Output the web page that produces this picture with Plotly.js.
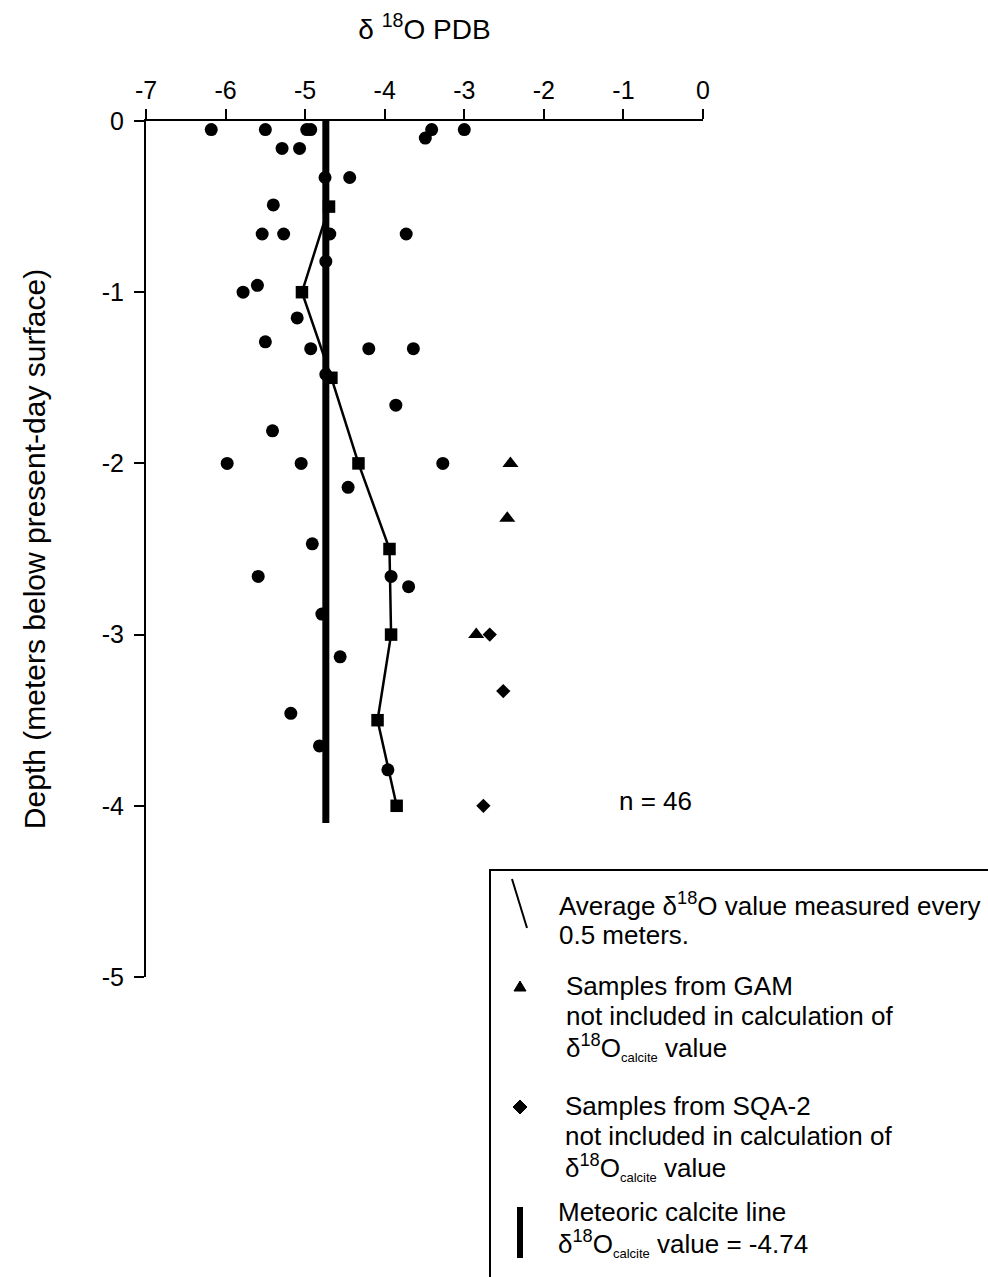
<!DOCTYPE html>
<html>
<head>
<meta charset="utf-8">
<script src="https://cdn.plot.ly/plotly-3.0.1.min.js"></script>
<style>html,body{margin:0;padding:0;background:#fff;}</style>
</head>
<body>
<div id="chart" style="width:988px;height:1277px;"></div>
<script>
// ---- data (δ18O PDB vs depth in m) ----
const sampleX = [-6.18,-5.50,-4.98,-4.93,-3.41,-3.49,-3.00,-5.29,-5.07,-4.75,-4.44,-5.40,-5.54,-5.27,-4.69,-3.73,-4.74,-5.60,-5.78,-5.10,-5.50,-4.93,-4.20,-3.64,
                 -4.74,-3.86,-5.41,-5.98,-5.05,-3.27,-4.46,-4.91,-5.59,-3.92,-3.70,
                 -4.79,-4.56,-5.18,-4.82,-3.96];
const sampleY = [-0.05,-0.05,-0.05,-0.05,-0.05,-0.10,-0.05,-0.16,-0.16,-0.33,-0.33,-0.49,-0.66,-0.66,-0.66,-0.66,-0.82,-0.96,-1.00,-1.15,-1.29,-1.33,-1.33,-1.33,
                 -1.48,-1.66,-1.81,-2.00,-2.00,-2.00,-2.14,-2.47,-2.66,-2.66,-2.72,
                 -2.88,-3.13,-3.46,-3.65,-3.79];
const avgDepth = [-0.5,-1.0,-1.5,-2.0,-2.5,-3.0,-3.5,-4.0];
const avgValue = [-4.70,-5.04,-4.67,-4.33,-3.94,-3.92,-4.09,-3.85];
const gamX = [-2.42,-2.46,-2.85];
const gamY = [-2.00,-2.32,-3.00];
const sqaX = [-2.68,-2.51,-2.76];
const sqaY = [-3.00,-3.33,-4.00];
const meteoricValue = -4.74;
const meteoricDepth = [0, -4.1];
const xTickVals = [-7,-6,-5,-4,-3,-2,-1,0];
const xTickText = ['-7','-6','-5','-4','-3','-2','-1','0'];
const yTickVals = [0,-1,-2,-3,-4,-5];
const yTickText = ['0','-1','-2','-3','-4','-5'];
const sampleCount = 46;

// ---- layout helpers (pixel -> paper) ----
const W = 988, H = 1277;
const M = {l:146, r:285, t:121, b:300};
const PW = W - M.l - M.r, PH = H - M.t - M.b;
const X = px => (px - M.l) / PW;
const Y = py => (H - M.b - py) / PH;

const FONT = '"Liberation Sans", Arial, Helvetica, sans-serif';
const SUB = '<sub><span style="font-size:13px">calcite</span></sub>';

const traces = [
  {x: meteoricDepth.map(() => meteoricValue), y: meteoricDepth, mode: 'lines',
   line: {color: '#000', width: 7}, showlegend: false, hoverinfo: 'skip'},
  {x: sampleX, y: sampleY, mode: 'markers', marker: {symbol: 'circle', size: 13, color: '#000'}, showlegend: false},
  {x: avgValue, y: avgDepth, mode: 'lines+markers', line: {color: '#000', width: 2.5},
   marker: {symbol: 'square', size: 12.5, color: '#000'}, showlegend: false},
  {x: gamX, y: gamY, mode: 'markers', marker: {symbol: 'triangle-up', size: 14, color: '#000'}, showlegend: false},
  {x: sqaX, y: sqaY, mode: 'markers', marker: {symbol: 'diamond', size: 11, color: '#000'}, showlegend: false}
];

function ann(text, px, py, size) {
  return {text: text, xref: 'paper', yref: 'paper', x: X(px), y: Y(py), xanchor: 'left', yanchor: 'middle',
          showarrow: false, font: {family: FONT, size: size || 26, color: '#000'}};
}

const annotations = [
  {text: 'n = ' + sampleCount, xref: 'x', yref: 'y', x: -0.6, y: -3.97, showarrow: false,
   xanchor: 'center', yanchor: 'middle', font: {family: FONT, size: 26, color: '#000'}},
  ann('Average δ<sup>18</sup>O value measured every', 557, 904),
  ann('0.5 meters.', 557, 935),
  ann('Samples from GAM', 564, 986),
  ann('not included in calculation of', 564, 1016),
  ann('δ<sup>18</sup>O' + SUB + ' value', 564, 1047),
  ann('Samples from SQA-2', 563, 1106),
  ann('not included in calculation of', 563, 1136),
  ann('δ<sup>18</sup>O' + SUB + ' value', 563, 1167),
  ann('Meteoric calcite line', 556, 1212),
  ann('δ<sup>18</sup>O' + SUB + ' value = -4.74', 556, 1243)
];

const shapes = [
  // legend box (left and top borders; extends off the page)
  {type: 'path', xref: 'paper', yref: 'paper',
   path: `M ${X(490)},${Y(1290)} L ${X(490)},${Y(870)} L ${X(1000)},${Y(870)}`,
   line: {color: '#000', width: 2}},
  // legend symbol: average line
  {type: 'line', xref: 'paper', yref: 'paper', x0: X(512), y0: Y(879), x1: X(527), y1: Y(928),
   line: {color: '#000', width: 2}},
  // triangle
  {type: 'path', xref: 'paper', yref: 'paper',
   path: `M ${X(514)},${Y(991)} L ${X(526)},${Y(991)} L ${X(520)},${Y(981)} Z`,
   fillcolor: '#000', line: {color: '#000', width: 1}},
  // diamond
  {type: 'path', xref: 'paper', yref: 'paper',
   path: `M ${X(520)},${Y(1100)} L ${X(527)},${Y(1107)} L ${X(520)},${Y(1114)} L ${X(513)},${Y(1107)} Z`,
   fillcolor: '#000', line: {color: '#000', width: 1}},
  // meteoric line symbol
  {type: 'line', xref: 'paper', yref: 'paper', x0: X(520), y0: Y(1207), x1: X(520), y1: Y(1258),
   line: {color: '#000', width: 6}}
];

const layout = {
  width: W, height: H,
  margin: M,
  paper_bgcolor: '#fff', plot_bgcolor: '#fff',
  font: {family: FONT, color: '#000', size: 25},
  showlegend: false,
  xaxis: {
    side: 'top', range: [-7, 0], tickvals: xTickVals, ticktext: xTickText,
    showline: true, linecolor: '#000', linewidth: 2, mirror: false,
    ticks: 'outside', ticklen: 10, tickwidth: 2, tickcolor: '#000',
    showgrid: false, zeroline: false, automargin: false,
    tickfont: {family: FONT, size: 25, color: '#000'},
    title: {text: 'δ <sup>18</sup>O PDB', font: {family: FONT, size: 28, color: '#000'}, standoff: 28}
  },
  yaxis: {
    range: [-5, 0], tickvals: yTickVals, ticktext: yTickText,
    showline: true, linecolor: '#000', linewidth: 2, mirror: false,
    ticks: 'outside', ticklen: 10, tickwidth: 2, tickcolor: '#000',
    ticklabelstandoff: 5,
    showgrid: false, zeroline: false, automargin: false,
    tickfont: {family: FONT, size: 25, color: '#000'},
    title: {text: 'Depth (meters below present-day surface)', font: {family: FONT, size: 30, color: '#000'}, standoff: 47}
  },
  annotations: annotations,
  shapes: shapes
};

Plotly.newPlot('chart', traces, layout, {displayModeBar: false, staticPlot: true});
</script>
</body>
</html>
